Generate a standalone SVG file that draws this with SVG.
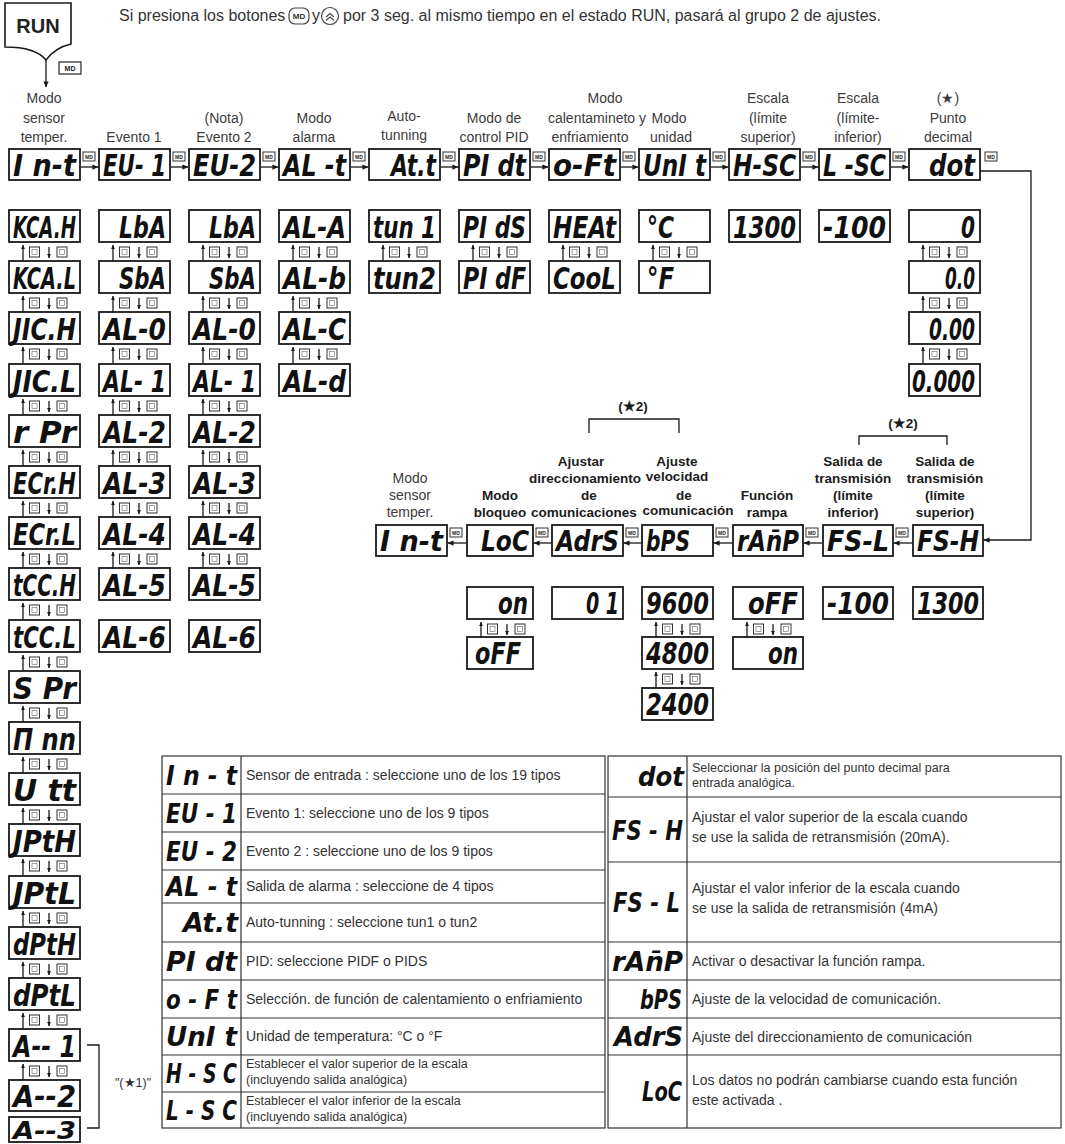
<svg xmlns="http://www.w3.org/2000/svg" width="1065" height="1144" viewBox="0 0 1065 1144">
<style>
.b{fill:#fff;stroke:#1a1a1a;stroke-width:1.8}
.s{font-family:"DejaVu Sans","Liberation Sans",sans-serif;font-weight:bold;font-style:italic;fill:#111}
.s1{font-size:29px}
.s2{font-size:31px}
.s3{font-size:27px}
.e{text-anchor:end}
.t{font-family:"Liberation Sans",Arial,sans-serif;font-size:14px;fill:#3c3c3c;text-anchor:middle}
.t2{font-family:"Liberation Sans Narrow","Liberation Sans",Arial,sans-serif;font-size:13.5px;font-weight:bold;fill:#1c1c1c;text-anchor:middle}
.d{font-family:"Liberation Sans",Arial,sans-serif;font-size:14px;fill:#333}
.d2{font-family:"Liberation Sans",Arial,sans-serif;font-size:12.5px;fill:#333}
.ln{fill:none;stroke:#1a1a1a;stroke-width:1.3}
.k{fill:#fff;stroke:#333;stroke-width:1}
.tb{fill:none;stroke:#333;stroke-width:1.2}
</style>
<defs>
<marker id="ah" viewBox="0 0 8 8" refX="7.5" refY="4" markerWidth="6" markerHeight="6" markerUnits="userSpaceOnUse" orient="auto"><path d="M0,0.5 L8,4 L0,7.5 z" fill="#1a1a1a"/></marker>
<marker id="as" viewBox="0 0 8 8" refX="7.5" refY="4" markerWidth="4.5" markerHeight="4.5" markerUnits="userSpaceOnUse" orient="auto"><path d="M0,0.5 L8,4 L0,7.5 z" fill="#1a1a1a"/></marker>
<g id="mdk"><rect class="k" x="0" y="0" width="12" height="9"/><text x="6" y="6.7" font-family="Liberation Sans,sans-serif" font-size="5" font-weight="bold" text-anchor="middle" fill="#222">MD</text></g>
<g id="nx"><use href="#mdk" x="3" y="3"/><line class="ln" x1="1" y1="18" x2="18" y2="18" marker-end="url(#ah)"/></g>
<g id="nxl"><use href="#mdk" x="3" y="3"/><line class="ln" x1="19" y1="18" x2="1" y2="18" marker-end="url(#ah)"/></g>
<g id="ud">
<line class="ln" x1="14" y1="19" x2="14" y2="3" stroke-width="1.2" marker-end="url(#as)"/>
<rect class="k" x="20.5" y="5" width="10" height="10"/><rect x="23" y="7.5" width="5" height="5" fill="none" stroke="#666" stroke-width="0.6"/>
<line class="ln" x1="40" y1="5" x2="40" y2="16" stroke-width="1.2" marker-end="url(#as)"/>
<rect class="k" x="48" y="5" width="10" height="10"/><rect x="50.5" y="7.5" width="5" height="5" fill="none" stroke="#666" stroke-width="0.6"/>
</g>
</defs>
<rect width="1065" height="1144" fill="#fff"/>

<!-- header -->
<g id="run">
<path d="M5,3 H71 V44 C62,46 52,52 46,60 C38,50 22,47 5,47 Z" fill="#fff" stroke="#1a1a1a" stroke-width="1.6"/>
<text x="38" y="33" font-family="Liberation Sans,Arial,sans-serif" font-size="20" font-weight="bold" text-anchor="middle" fill="#222">RUN</text>
</g>
<g id="instruction" font-family="Liberation Sans,Arial,sans-serif" font-size="16" fill="#333">
<text x="119" y="21">Si presiona los botones</text>
<rect x="289" y="8" width="20" height="16" rx="6" fill="#fff" stroke="#444" stroke-width="1.2"/>
<text x="299" y="19" font-size="8" font-weight="bold" text-anchor="middle">MD</text>
<text x="312" y="21">y</text>
<circle cx="330" cy="16" r="8.5" fill="#fff" stroke="#444" stroke-width="1.2"/>
<polyline points="326,17 330,13.5 334,17" fill="none" stroke="#444" stroke-width="1.1"/>
<polyline points="326,20.5 330,17 334,20.5" fill="none" stroke="#444" stroke-width="1.1"/>
<text x="343" y="21">por 3 seg. al mismo tiempo en el estado RUN, pasará al grupo 2 de ajustes.</text>
</g>

<!-- top labels -->
<g id="top-labels">
<text class="t" x="44" y="103">Modo</text><text class="t" x="44" y="123">sensor</text><text class="t" x="44" y="142">temper.</text>
<text class="t" x="134" y="142">Evento 1</text>
<text class="t" x="224" y="123">(Nota)</text><text class="t" x="224" y="142">Evento 2</text>
<text class="t" x="314" y="123">Modo</text><text class="t" x="314" y="142">alarma</text>
<text class="t" x="404" y="121">Auto-</text><text class="t" x="404" y="140">tunning</text>
<text class="t" x="494" y="123">Modo de</text><text class="t" x="494" y="142">control PID</text>
<text class="t" x="605" y="103">Modo</text><text class="t" x="597" y="123">calentamineto y</text><text class="t" x="590" y="142">enfriamiento</text>
<text class="t" x="669" y="123">Modo</text><text class="t" x="671" y="142">unidad</text>
<text class="t" x="768" y="103">Escala</text><text class="t" x="768" y="123">(límite</text><text class="t" x="768" y="142">superior)</text>
<text class="t" x="858" y="103">Escala</text><text class="t" x="858" y="123">(límite-</text><text class="t" x="858" y="142">inferior)</text>
<text class="t" x="948" y="103">(★)</text><text class="t" x="948" y="123">Punto</text><text class="t" x="948" y="142">decimal</text>
</g>

<!-- top row -->
<g id="top-row">
<g id="n-int"><rect class="b" x="9" y="149" width="71" height="31"/><text class="s s2" x="13" y="176" textLength="63" lengthAdjust="spacingAndGlyphs">I n-t</text></g>
<g id="n-eu1"><rect class="b" x="99" y="149" width="71" height="31"/><text class="s s2" x="103" y="176" textLength="63" lengthAdjust="spacingAndGlyphs">EU- 1</text></g>
<g id="n-eu2"><rect class="b" x="189" y="149" width="71" height="31"/><text class="s s2" x="193" y="176" textLength="63" lengthAdjust="spacingAndGlyphs">EU-2</text></g>
<g id="n-alt"><rect class="b" x="279" y="149" width="71" height="31"/><text class="s s2" x="283" y="176" textLength="63" lengthAdjust="spacingAndGlyphs">AL -t</text></g>
<g id="n-att"><rect class="b" x="369" y="149" width="71" height="31"/><text class="s s2 e" x="436" y="176" textLength="45" lengthAdjust="spacingAndGlyphs">At.t</text></g>
<g id="n-pidt"><rect class="b" x="459" y="149" width="71" height="31"/><text class="s s2" x="463" y="176" textLength="63" lengthAdjust="spacingAndGlyphs">PI dt</text></g>
<g id="n-oft"><rect class="b" x="549" y="149" width="71" height="31"/><text class="s s2" x="553" y="176" textLength="63" lengthAdjust="spacingAndGlyphs">o-Ft</text></g>
<g id="n-unit"><rect class="b" x="639" y="149" width="71" height="31"/><text class="s s2" x="643" y="176" textLength="63" lengthAdjust="spacingAndGlyphs">UnI t</text></g>
<g id="n-hsc"><rect class="b" x="729" y="149" width="71" height="31"/><text class="s s2" x="733" y="176" textLength="63" lengthAdjust="spacingAndGlyphs">H-SC</text></g>
<g id="n-lsc"><rect class="b" x="819" y="149" width="71" height="31"/><text class="s s2" x="823" y="176" textLength="63" lengthAdjust="spacingAndGlyphs">L -SC</text></g>
<g id="n-dot"><rect class="b" x="909" y="149" width="71" height="31"/><text class="s s2 e" x="975" y="176" textLength="46" lengthAdjust="spacingAndGlyphs">dot</text></g>
</g>

<!-- vertical lists -->
<g id="col-sensor">
<g id="v-kcah"><rect class="b" x="9" y="210" width="71" height="32"/><text class="s s2" x="13" y="238" textLength="63" lengthAdjust="spacingAndGlyphs">KCA.H</text></g>
<g id="v-kcal"><rect class="b" x="9" y="261" width="71" height="32"/><text class="s s2" x="13" y="289" textLength="63" lengthAdjust="spacingAndGlyphs">KCA.L</text></g>
<g id="v-jich"><rect class="b" x="9" y="312" width="71" height="32"/><text class="s s2" x="13" y="340" textLength="63" lengthAdjust="spacingAndGlyphs">JIC.H</text></g>
<g id="v-jicl"><rect class="b" x="9" y="364" width="71" height="32"/><text class="s s2" x="13" y="392" textLength="63" lengthAdjust="spacingAndGlyphs">JIC.L</text></g>
<g id="v-rpr"><rect class="b" x="9" y="415" width="71" height="32"/><text class="s s2" x="13" y="443" textLength="63" lengthAdjust="spacingAndGlyphs">r  Pr</text></g>
<g id="v-ecrh"><rect class="b" x="9" y="466" width="71" height="32"/><text class="s s2" x="13" y="494" textLength="63" lengthAdjust="spacingAndGlyphs">ECr.H</text></g>
<g id="v-ecrl"><rect class="b" x="9" y="517" width="71" height="32"/><text class="s s2" x="13" y="545" textLength="63" lengthAdjust="spacingAndGlyphs">ECr.L</text></g>
<g id="v-tcch"><rect class="b" x="9" y="568" width="71" height="32"/><text class="s s2" x="13" y="596" textLength="63" lengthAdjust="spacingAndGlyphs">tCC.H</text></g>
<g id="v-tccl"><rect class="b" x="9" y="620" width="71" height="32"/><text class="s s2" x="13" y="648" textLength="63" lengthAdjust="spacingAndGlyphs">tCC.L</text></g>
<g id="v-spr"><rect class="b" x="9" y="671" width="71" height="32"/><text class="s s2" x="13" y="699" textLength="63" lengthAdjust="spacingAndGlyphs">S  Pr</text></g>
<g id="v-nnn"><rect class="b" x="9" y="722" width="71" height="32"/><text class="s s2" x="13" y="750" textLength="63" lengthAdjust="spacingAndGlyphs">Π  nn</text></g>
<g id="v-utt"><rect class="b" x="9" y="773" width="71" height="32"/><text class="s s2" x="13" y="801" textLength="63" lengthAdjust="spacingAndGlyphs">U  tt</text></g>
<g id="v-jpth"><rect class="b" x="9" y="824" width="71" height="32"/><text class="s s2" x="13" y="852" textLength="63" lengthAdjust="spacingAndGlyphs">JPtH</text></g>
<g id="v-jptl"><rect class="b" x="9" y="876" width="71" height="32"/><text class="s s2" x="13" y="904" textLength="63" lengthAdjust="spacingAndGlyphs">JPtL</text></g>
<g id="v-dpth"><rect class="b" x="9" y="927" width="71" height="32"/><text class="s s2" x="13" y="955" textLength="63" lengthAdjust="spacingAndGlyphs">dPtH</text></g>
<g id="v-dptl"><rect class="b" x="9" y="978" width="71" height="32"/><text class="s s2" x="13" y="1006" textLength="63" lengthAdjust="spacingAndGlyphs">dPtL</text></g>
<g id="v-a1"><rect class="b" x="9" y="1029" width="71" height="32"/><text class="s s2" x="13" y="1057" textLength="63" lengthAdjust="spacingAndGlyphs">A-- 1</text></g>
<g id="v-a2"><rect class="b" x="9" y="1080" width="71" height="31"/><text class="s s2" x="13" y="1107" textLength="63" lengthAdjust="spacingAndGlyphs">A--2</text></g>
<g id="v-a3"><rect class="b" x="9" y="1117" width="71" height="25"/><text class="s" font-size="25" x="13" y="1139" textLength="63" lengthAdjust="spacingAndGlyphs">A--3</text></g>
</g>

<g id="col-ev1">
<g id="v1-lba"><rect class="b" x="99" y="210" width="71" height="32"/><text class="s s2 e" x="166" y="238" textLength="47" lengthAdjust="spacingAndGlyphs">LbA</text></g>
<g id="v1-sba"><rect class="b" x="99" y="261" width="71" height="32"/><text class="s s2 e" x="166" y="289" textLength="47" lengthAdjust="spacingAndGlyphs">SbA</text></g>
<g id="v1-al0"><rect class="b" x="99" y="312" width="71" height="32"/><text class="s s2" x="103" y="340" textLength="63" lengthAdjust="spacingAndGlyphs">AL-0</text></g>
<g id="v1-al1"><rect class="b" x="99" y="364" width="71" height="32"/><text class="s s2" x="103" y="392" textLength="63" lengthAdjust="spacingAndGlyphs">AL- 1</text></g>
<g id="v1-al2"><rect class="b" x="99" y="415" width="71" height="32"/><text class="s s2" x="103" y="443" textLength="63" lengthAdjust="spacingAndGlyphs">AL-2</text></g>
<g id="v1-al3"><rect class="b" x="99" y="466" width="71" height="32"/><text class="s s2" x="103" y="494" textLength="63" lengthAdjust="spacingAndGlyphs">AL-3</text></g>
<g id="v1-al4"><rect class="b" x="99" y="517" width="71" height="32"/><text class="s s2" x="103" y="545" textLength="63" lengthAdjust="spacingAndGlyphs">AL-4</text></g>
<g id="v1-al5"><rect class="b" x="99" y="568" width="71" height="32"/><text class="s s2" x="103" y="596" textLength="63" lengthAdjust="spacingAndGlyphs">AL-5</text></g>
<g id="v1-al6"><rect class="b" x="99" y="620" width="71" height="32"/><text class="s s2" x="103" y="648" textLength="63" lengthAdjust="spacingAndGlyphs">AL-6</text></g>
</g>

<g id="col-ev2">
<g id="v2-lba"><rect class="b" x="189" y="210" width="71" height="32"/><text class="s s2 e" x="256" y="238" textLength="47" lengthAdjust="spacingAndGlyphs">LbA</text></g>
<g id="v2-sba"><rect class="b" x="189" y="261" width="71" height="32"/><text class="s s2 e" x="256" y="289" textLength="47" lengthAdjust="spacingAndGlyphs">SbA</text></g>
<g id="v2-al0"><rect class="b" x="189" y="312" width="71" height="32"/><text class="s s2" x="193" y="340" textLength="63" lengthAdjust="spacingAndGlyphs">AL-0</text></g>
<g id="v2-al1"><rect class="b" x="189" y="364" width="71" height="32"/><text class="s s2" x="193" y="392" textLength="63" lengthAdjust="spacingAndGlyphs">AL- 1</text></g>
<g id="v2-al2"><rect class="b" x="189" y="415" width="71" height="32"/><text class="s s2" x="193" y="443" textLength="63" lengthAdjust="spacingAndGlyphs">AL-2</text></g>
<g id="v2-al3"><rect class="b" x="189" y="466" width="71" height="32"/><text class="s s2" x="193" y="494" textLength="63" lengthAdjust="spacingAndGlyphs">AL-3</text></g>
<g id="v2-al4"><rect class="b" x="189" y="517" width="71" height="32"/><text class="s s2" x="193" y="545" textLength="63" lengthAdjust="spacingAndGlyphs">AL-4</text></g>
<g id="v2-al5"><rect class="b" x="189" y="568" width="71" height="32"/><text class="s s2" x="193" y="596" textLength="63" lengthAdjust="spacingAndGlyphs">AL-5</text></g>
<g id="v2-al6"><rect class="b" x="189" y="620" width="71" height="32"/><text class="s s2" x="193" y="648" textLength="63" lengthAdjust="spacingAndGlyphs">AL-6</text></g>
</g>

<g id="col-alarm">
<g id="v3-ala"><rect class="b" x="279" y="210" width="71" height="32"/><text class="s s2" x="283" y="238" textLength="63" lengthAdjust="spacingAndGlyphs">AL-A</text></g>
<g id="v3-alb"><rect class="b" x="279" y="261" width="71" height="32"/><text class="s s2" x="283" y="289" textLength="63" lengthAdjust="spacingAndGlyphs">AL-b</text></g>
<g id="v3-alc"><rect class="b" x="279" y="312" width="71" height="32"/><text class="s s2" x="283" y="340" textLength="63" lengthAdjust="spacingAndGlyphs">AL-C</text></g>
<g id="v3-ald"><rect class="b" x="279" y="364" width="71" height="32"/><text class="s s2" x="283" y="392" textLength="63" lengthAdjust="spacingAndGlyphs">AL-d</text></g>
</g>

<g id="col-tun">
<g id="v4-tun1"><rect class="b" x="369" y="210" width="71" height="32"/><text class="s s2" x="373" y="238" textLength="63" lengthAdjust="spacingAndGlyphs">tun 1</text></g>
<g id="v4-tun2"><rect class="b" x="369" y="261" width="71" height="32"/><text class="s s2" x="373" y="289" textLength="63" lengthAdjust="spacingAndGlyphs">tun2</text></g>
</g>
<g id="col-pid">
<g id="v5-pids"><rect class="b" x="459" y="210" width="71" height="32"/><text class="s s2" x="463" y="238" textLength="63" lengthAdjust="spacingAndGlyphs">PI dS</text></g>
<g id="v5-pidf"><rect class="b" x="459" y="261" width="71" height="32"/><text class="s s2" x="463" y="289" textLength="63" lengthAdjust="spacingAndGlyphs">PI dF</text></g>
</g>
<g id="col-heat">
<g id="v6-heat"><rect class="b" x="549" y="210" width="71" height="32"/><text class="s s2" x="553" y="238" textLength="63" lengthAdjust="spacingAndGlyphs">HEAt</text></g>
<g id="v6-cool"><rect class="b" x="549" y="261" width="71" height="32"/><text class="s s2" x="553" y="289" textLength="63" lengthAdjust="spacingAndGlyphs">CooL</text></g>
</g>
<g id="col-unit">
<g id="v7-c"><rect class="b" x="639" y="210" width="71" height="32"/><text class="s s2" x="647" y="238" textLength="27" lengthAdjust="spacingAndGlyphs">°C</text></g>
<g id="v7-f"><rect class="b" x="639" y="261" width="71" height="32"/><text class="s s2" x="647" y="289" textLength="27" lengthAdjust="spacingAndGlyphs">°F</text></g>
</g>
<g id="v8-1300"><rect class="b" x="729" y="210" width="71" height="32"/><text class="s s2" x="733" y="238" textLength="63" lengthAdjust="spacingAndGlyphs">1300</text></g>
<g id="v9-m100"><rect class="b" x="819" y="210" width="71" height="32"/><text class="s s2" x="823" y="238" textLength="63" lengthAdjust="spacingAndGlyphs">-100</text></g>
<g id="col-dot">
<g id="v10-0"><rect class="b" x="909" y="210" width="71" height="32"/><text class="s s2 e" x="975" y="238" textLength="14" lengthAdjust="spacingAndGlyphs">0</text></g>
<g id="v10-1"><rect class="b" x="909" y="261" width="71" height="32"/><text class="s s2 e" x="975" y="289" textLength="30" lengthAdjust="spacingAndGlyphs">0.0</text></g>
<g id="v10-2"><rect class="b" x="909" y="312" width="71" height="32"/><text class="s s2 e" x="975" y="340" textLength="46" lengthAdjust="spacingAndGlyphs">0.00</text></g>
<g id="v10-3"><rect class="b" x="909" y="364" width="71" height="32"/><text class="s s2 e" x="975" y="392" textLength="63" lengthAdjust="spacingAndGlyphs">0.000</text></g>
</g>

<!-- second part -->
<g id="lower-labels">
<text class="t" x="410" y="483">Modo</text><text class="t" x="410" y="500">sensor</text><text class="t" x="410" y="517">temper.</text>
<text class="t2" x="500" y="500">Modo</text><text class="t2" x="500" y="517">bloqueo</text>
<text class="t2" x="581" y="466">Ajustar</text><text class="t2" x="585" y="483">direccionamiento</text><text class="t2" x="589" y="500">de</text><text class="t2" x="584" y="517">comunicaciones</text>
<text class="t2" x="677" y="466">Ajuste</text><text class="t2" x="677" y="481">velocidad</text><text class="t2" x="684" y="500">de</text><text class="t2" x="688" y="515">comunicación</text>
<text class="t2" x="767" y="500">Función</text><text class="t2" x="767" y="517">rampa</text>
<text class="t2" x="853" y="466">Salida de</text><text class="t2" x="853" y="483">transmisión</text><text class="t2" x="853" y="500">(límite</text><text class="t2" x="853" y="517">inferior)</text>
<text class="t2" x="945" y="466">Salida de</text><text class="t2" x="945" y="483">transmisión</text><text class="t2" x="945" y="500">(límite</text><text class="t2" x="945" y="517">superior)</text>
<text class="t2" x="633" y="411">(★2)</text>
<text class="t2" x="903" y="428">(★2)</text>
</g>
<g id="lower-row">
<g id="m-int"><rect class="b" x="376" y="525" width="71" height="31"/><text class="s s1" x="380" y="551" textLength="63" lengthAdjust="spacingAndGlyphs">I n-t</text></g>
<g id="m-loc"><rect class="b" x="467" y="525" width="66" height="31"/><text class="s s1 e" x="529" y="551" textLength="48" lengthAdjust="spacingAndGlyphs">LoC</text></g>
<g id="m-adrs"><rect class="b" x="552" y="525" width="71" height="31"/><text class="s s1" x="556" y="551" textLength="63" lengthAdjust="spacingAndGlyphs">AdrS</text></g>
<g id="m-bps"><rect class="b" x="642" y="525" width="71" height="31"/><text class="s s1" x="646" y="551" textLength="44" lengthAdjust="spacingAndGlyphs">bPS</text></g>
<g id="m-ramp"><rect class="b" x="733" y="525" width="70" height="31"/><text class="s s1" x="737" y="551" textLength="62" lengthAdjust="spacingAndGlyphs">rAn̄P</text></g>
<g id="m-fsl"><rect class="b" x="823" y="525" width="70" height="31"/><text class="s s1" x="827" y="551" textLength="62" lengthAdjust="spacingAndGlyphs">FS-L</text></g>
<g id="m-fsh"><rect class="b" x="913" y="525" width="70" height="31"/><text class="s s1" x="917" y="551" textLength="62" lengthAdjust="spacingAndGlyphs">FS-H</text></g>
</g>
<g id="lower-values">
<g id="w-on"><rect class="b" x="467" y="587" width="66" height="32"/><text class="s s2 e" x="528" y="614" textLength="30" lengthAdjust="spacingAndGlyphs">on</text></g>
<g id="w-off"><rect class="b" x="467" y="637" width="66" height="32"/><text class="s s2" x="475" y="664" textLength="46" lengthAdjust="spacingAndGlyphs">oFF</text></g>
<g id="w-01"><rect class="b" x="552" y="587" width="71" height="32"/><text class="s s2 e" x="619" y="614" textLength="33" lengthAdjust="spacingAndGlyphs">0 1</text></g>
<g id="w-9600"><rect class="b" x="642" y="587" width="71" height="32"/><text class="s s2" x="646" y="614" textLength="63" lengthAdjust="spacingAndGlyphs">9600</text></g>
<g id="w-4800"><rect class="b" x="642" y="637" width="71" height="32"/><text class="s s2" x="646" y="664" textLength="63" lengthAdjust="spacingAndGlyphs">4800</text></g>
<g id="w-2400"><rect class="b" x="642" y="688" width="71" height="32"/><text class="s s2" x="646" y="715" textLength="63" lengthAdjust="spacingAndGlyphs">2400</text></g>
<g id="w-roff"><rect class="b" x="733" y="587" width="70" height="32"/><text class="s s2" x="748" y="614" textLength="50" lengthAdjust="spacingAndGlyphs">oFF</text></g>
<g id="w-ron"><rect class="b" x="733" y="637" width="70" height="32"/><text class="s s2 e" x="798" y="664" textLength="30" lengthAdjust="spacingAndGlyphs">on</text></g>
<g id="w-m100"><rect class="b" x="823" y="587" width="70" height="32"/><text class="s s2" x="827" y="614" textLength="62" lengthAdjust="spacingAndGlyphs">-100</text></g>
<g id="w-1300"><rect class="b" x="913" y="587" width="70" height="32"/><text class="s s2" x="917" y="614" textLength="62" lengthAdjust="spacingAndGlyphs">1300</text></g>
</g>

<!-- connectors -->
<g id="connectors">
<line class="ln" x1="46" y1="60" x2="46" y2="87" marker-end="url(#ah)"/>
<rect x="59" y="62" width="22" height="12" fill="#fff" stroke="#222" stroke-width="1.2"/>
<text x="70" y="71" font-family="Liberation Sans,sans-serif" font-size="7" font-weight="bold" text-anchor="middle" fill="#222">MD</text>
<use href="#nx" x="80" y="149"/><use href="#nx" x="170" y="149"/><use href="#nx" x="260" y="149"/><use href="#nx" x="350" y="149"/><use href="#nx" x="440" y="149"/>
<use href="#nx" x="530" y="149"/><use href="#nx" x="620" y="149"/><use href="#nx" x="710" y="149"/><use href="#nx" x="800" y="149"/><use href="#nx" x="890" y="149"/>
<use href="#mdk" x="985" y="152"/>
<path class="ln" d="M980,171 H1031 V540 H984" marker-end="url(#ah)"/>
<use href="#nxl" x="447" y="525"/><use href="#nxl" x="533" y="525"/><use href="#nxl" x="623" y="525"/><use href="#nxl" x="713" y="525"/><use href="#nxl" x="803" y="525"/><use href="#nxl" x="893" y="525"/>
<use href="#ud" x="9" y="242"/><use href="#ud" x="9" y="293"/><use href="#ud" x="9" y="344"/><use href="#ud" x="9" y="396"/><use href="#ud" x="9" y="447"/><use href="#ud" x="9" y="498"/><use href="#ud" x="9" y="549"/><use href="#ud" x="9" y="600"/><use href="#ud" x="9" y="652"/><use href="#ud" x="9" y="703"/><use href="#ud" x="9" y="754"/><use href="#ud" x="9" y="805"/><use href="#ud" x="9" y="856"/><use href="#ud" x="9" y="908"/><use href="#ud" x="9" y="959"/><use href="#ud" x="9" y="1010"/><use href="#ud" x="9" y="1061"/>
<use href="#ud" x="99" y="242"/><use href="#ud" x="99" y="293"/><use href="#ud" x="99" y="344"/><use href="#ud" x="99" y="396"/><use href="#ud" x="99" y="447"/><use href="#ud" x="99" y="498"/><use href="#ud" x="99" y="549"/>
<use href="#ud" x="189" y="242"/><use href="#ud" x="189" y="293"/><use href="#ud" x="189" y="344"/><use href="#ud" x="189" y="396"/><use href="#ud" x="189" y="447"/><use href="#ud" x="189" y="498"/><use href="#ud" x="189" y="549"/>
<use href="#ud" x="279" y="242"/><use href="#ud" x="279" y="293"/><use href="#ud" x="279" y="344"/>
<use href="#ud" x="369" y="242"/><use href="#ud" x="459" y="242"/><use href="#ud" x="549" y="242"/><use href="#ud" x="639" y="242"/>
<use href="#ud" x="909" y="242"/><use href="#ud" x="909" y="293"/><use href="#ud" x="909" y="344"/>
<use href="#ud" x="467" y="619"/><use href="#ud" x="642" y="619"/><use href="#ud" x="642" y="669"/><use href="#ud" x="733" y="619"/>
<path class="ln" d="M589,433 V419 H679 V433"/>
<path class="ln" d="M859,445 V436 H947 V445"/>
<path class="ln" d="M87,1045 H99 V1128 H87"/>
<text x="133" y="1087" font-family="Liberation Sans,sans-serif" font-size="12.5" text-anchor="middle" fill="#333">"(★1)"</text>
</g>

<!-- table -->
<g id="table">
<rect class="tb" x="162" y="756" width="443" height="372"/>
<rect class="tb" x="608" y="756" width="453" height="372"/>
<path class="tb" d="M241,756 V1128 M687,756 V1128"/>
<path class="tb" d="M162,794 H605 M162,832 H605 M162,870 H605 M162,903 H605 M162,942 H605 M162,980 H605 M162,1018 H605 M162,1055 H605 M162,1092 H605"/>
<path class="tb" d="M608,797 H1061 M608,862 H1061 M608,942 H1061 M608,980 H1061 M608,1018 H1061 M608,1055 H1061"/>
<text class="s s3" x="166" y="785" textLength="71" lengthAdjust="spacingAndGlyphs">I n - t</text>
<text class="s s3" x="166" y="823" textLength="71" lengthAdjust="spacingAndGlyphs">EU - 1</text>
<text class="s s3" x="166" y="861" textLength="71" lengthAdjust="spacingAndGlyphs">EU - 2</text>
<text class="s s3" x="166" y="896" textLength="71" lengthAdjust="spacingAndGlyphs">AL - t</text>
<text class="s s3 e" x="238" y="932" textLength="55" lengthAdjust="spacingAndGlyphs">At.t</text>
<text class="s s3" x="166" y="971" textLength="71" lengthAdjust="spacingAndGlyphs">PI dt</text>
<text class="s s3" x="166" y="1009" textLength="71" lengthAdjust="spacingAndGlyphs">o - F t</text>
<text class="s s3" x="166" y="1046" textLength="71" lengthAdjust="spacingAndGlyphs">UnI t</text>
<text class="s s3" x="166" y="1083" textLength="71" lengthAdjust="spacingAndGlyphs">H - S C</text>
<text class="s s3" x="166" y="1120" textLength="71" lengthAdjust="spacingAndGlyphs">L - S C</text>
<text class="s s3 e" x="684" y="786" textLength="46" lengthAdjust="spacingAndGlyphs">dot</text>
<text class="s s3" x="612" y="840" textLength="71" lengthAdjust="spacingAndGlyphs">FS - H</text>
<text class="s s3" x="613" y="912" textLength="67" lengthAdjust="spacingAndGlyphs">FS - L</text>
<text class="s s3" x="612" y="971" textLength="71" lengthAdjust="spacingAndGlyphs">rAn̄P</text>
<text class="s s3 e" x="682" y="1009" textLength="42" lengthAdjust="spacingAndGlyphs">bPS</text>
<text class="s s3" x="614" y="1046" textLength="69" lengthAdjust="spacingAndGlyphs">AdrS</text>
<text class="s s3 e" x="682" y="1101" textLength="40" lengthAdjust="spacingAndGlyphs">LoC</text>
<text class="d" x="246" y="780">Sensor de entrada : seleccione uno de los 19 tipos</text>
<text class="d" x="246" y="818">Evento 1: seleccione uno de los 9 tipos</text>
<text class="d" x="246" y="856">Evento 2 : seleccione uno de los 9 tipos</text>
<text class="d" x="246" y="891">Salida de alarma : seleccione de 4 tipos</text>
<text class="d" x="246" y="927">Auto-tunning : seleccione tun1 o tun2</text>
<text class="d" x="246" y="966">PID: seleccione PIDF o PIDS</text>
<text class="d" x="246" y="1004">Selección. de función de calentamiento o enfriamiento</text>
<text class="d" x="246" y="1041">Unidad de temperatura: °C o °F</text>
<text class="d2" x="246" y="1068">Establecer el valor superior de la escala</text>
<text class="d2" x="246" y="1084">(incluyendo salida analógica)</text>
<text class="d2" x="246" y="1105">Establecer el valor inferior de la escala</text>
<text class="d2" x="246" y="1121">(incluyendo salida analógica)</text>
<text class="d2" x="692" y="772">Seleccionar la posición del punto decimal para</text>
<text class="d2" x="692" y="787">entrada analógica.</text>
<text class="d" x="692" y="822">Ajustar el valor superior de la escala cuando</text>
<text class="d" x="692" y="842">se use la salida de retransmisión (20mA).</text>
<text class="d" x="692" y="893">Ajustar el valor inferior de la escala cuando</text>
<text class="d" x="692" y="913">se use la salida de retransmisión (4mA)</text>
<text class="d" x="692" y="966">Activar o desactivar la función rampa.</text>
<text class="d" x="692" y="1004">Ajuste de la velocidad de comunicación.</text>
<text class="d" x="692" y="1042">Ajuste del direccionamiento de comunicación</text>
<text class="d" x="692" y="1085">Los datos no podrán cambiarse cuando esta función</text>
<text class="d" x="692" y="1105">este activada .</text>
</g>
</svg>
